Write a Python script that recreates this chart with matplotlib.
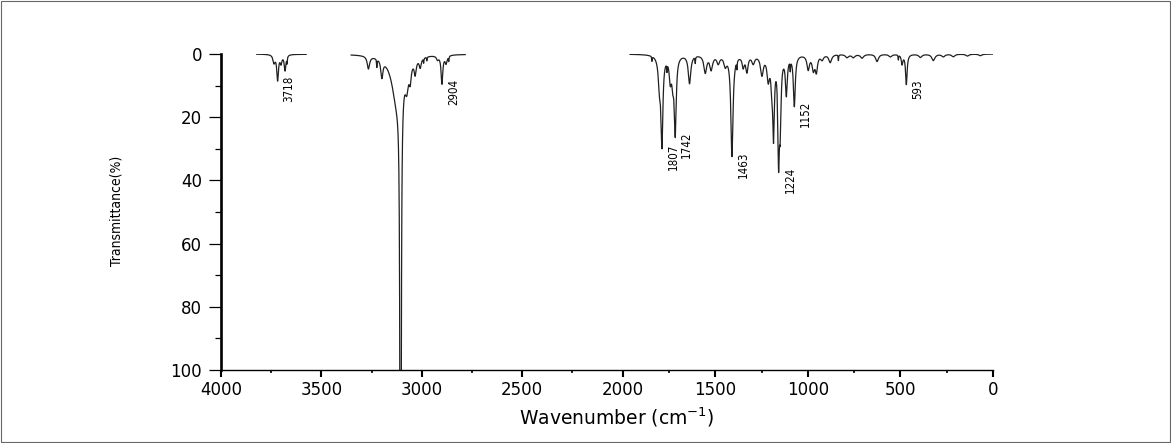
import numpy as np
import matplotlib
matplotlib.use("Agg")
import matplotlib.pyplot as plt
from matplotlib import font_manager
from matplotlib.patches import Rectangle
from matplotlib.ticker import MultipleLocator

# spectrum pieces (cm-1), drawn only inside these ranges
seg_start = [3822, 3352, 1960]
seg_end = [3576, 2784, 0]

# bands: position (cm-1), depth (%), half width (cm-1)
peak_pos = [3736, 3718, 3701, 3681, 3671,
            3266, 3224, 3199, 3125, 3106, 3075, 3058, 3033, 3008, 2991, 2975, 2922, 2900, 2879, 2866,
            1842, 1801, 1788, 1761, 1743, 1729, 1716, 1639, 1608, 1554, 1522, 1484, 1446, 1410, 1383,
            1349, 1329, 1295, 1248, 1214, 1194, 1185, 1158, 1149, 1116, 1095, 1073, 998, 970, 954,
            923, 879, 835, 788, 754, 707, 626, 554, 511, 491, 468, 392, 322, 268, 214, 138, 68]
peak_depth = [2.5, 8, 2.5, 5, 2,
              4, 2.5, 5.5, 14, 300, 7, 5, 4.5, 3, 1.5, 1.2, 1.2, 9, 2.5, 1.5,
              1.5, 9, 27, 2.5, 7, 7, 24, 9, 2, 5.5, 4.5, 2.5, 3, 32, 2.5,
              3.5, 5, 2.5, 6, 7, 8, 23, 31, 20, 12, 3, 16, 4.5, 4.5, 5,
              1.5, 2.5, 1.8, 1, 1, 1.2, 2.3, 0.8, 1.5, 3, 9.5, 1, 2, 0.8, 0.8, 0.6, 0.5]
peak_hwhm = [6, 5, 5, 5, 1.5,
             7, 1.5, 6, 30, 2.5, 10, 6, 6, 6, 1.5, 1.5, 6, 5, 6, 1.5,
             1.5, 8, 6, 1.5, 7, 7, 6, 8, 1.5, 9, 9, 9, 9, 7, 1.5,
             7, 7, 9, 9, 8, 7, 5, 5, 5, 6, 1.5, 6, 8, 8, 7,
             9, 9, 1.5, 10, 10, 10, 9, 10, 1.5, 5, 5, 10, 10, 10, 10, 10, 10]

label_text = ["3718", "2904", "1807", "1742", "1463", "1224", "1152", "593"]
label_pos = [3718, 2900, 1788, 1716, 1410, 1158, 1073, 468]

x_ticks = [4000, 3500, 3000, 2500, 2000, 1500, 1000, 500, 0]
y_ticks = [0, 20, 40, 60, 80, 100]

names = {f.name for f in font_manager.fontManager.ttflist}
NARROW = dict(family="Liberation Sans Narrow") if "Liberation Sans Narrow" in names \
    else dict(family="DejaVu Sans", stretch="condensed")


def spectrum(x):
    pos = np.array(peak_pos, float)[:, None]
    d = np.array(peak_depth, float)[:, None]
    g = np.array(peak_hwhm, float)[:, None]
    return (d * g ** 2 / (g ** 2 + (x[None, :] - pos) ** 2)).sum(axis=0)


# the printed axis is a little wider per unit above 2000 than below
A_LO, A_HI = 0.185, 0.2007


def fwd(x):
    x = np.asarray(x, float)
    return np.where(x <= 2000, x * A_LO, 2000 * A_LO + (x - 2000) * A_HI)


def inv(y):
    y = np.asarray(y, float)
    return np.where(y <= 2000 * A_LO, y / A_LO, 2000 + (y - 2000 * A_LO) / A_HI)


fig = plt.figure(figsize=(11.71, 4.43), dpi=100)
fig.patches.append(Rectangle((0.001, 0.002), 0.998, 0.996, transform=fig.transFigure,
                             fill=False, edgecolor="#666666", lw=0.8))
ax = fig.add_axes([221 / 1171, 73 / 443, (993 - 221) / 1171, 316 / 443])
ax.set_xscale("function", functions=(fwd, inv))

for s, e in zip(seg_start, seg_end):
    xs = np.arange(e, s + 0.25, 0.25)
    ax.plot(xs, spectrum(xs), color="#202020", lw=0.9)

for txt, p in zip(label_text, label_pos):
    depth = spectrum(np.array([p], float))[0]
    ax.annotate(txt, (p, depth), xytext=(3.5, 4), textcoords="offset points",
                rotation=90, ha="left", va="top", fontsize=8.3, **NARROW)

ax.set_xlim(4000, 0)
ax.set_ylim(100, 0)
ax.set_xticks(x_ticks)
ax.set_yticks(y_ticks)
ax.xaxis.set_minor_locator(MultipleLocator(250))
ax.yaxis.set_minor_locator(MultipleLocator(10))

for side in ("top", "right"):
    ax.spines[side].set_visible(False)
ax.spines["left"].set_linewidth(1.9)
ax.spines["bottom"].set_linewidth(1.0)
ax.tick_params(axis="y", which="major", length=8.5, width=0.9, labelsize=12, pad=5)
ax.tick_params(axis="y", which="minor", length=4.5, width=0.9)
ax.tick_params(axis="x", which="major", length=5, width=1.5, labelsize=12, pad=3)
ax.tick_params(axis="x", which="minor", length=2.5, width=1.2)

ax.set_xlabel("Wavenumber (cm$^{-1}$)", fontsize=13.5)
ax.xaxis.set_label_coords((617 - 221) / (993 - 221), -0.112)
fig.text(117 / 1171, 1 - 211 / 443, "Transmittance(%)", rotation=90, ha="center", va="center",
         fontsize=10, **NARROW)

fig.savefig("out.png", dpi=100)
